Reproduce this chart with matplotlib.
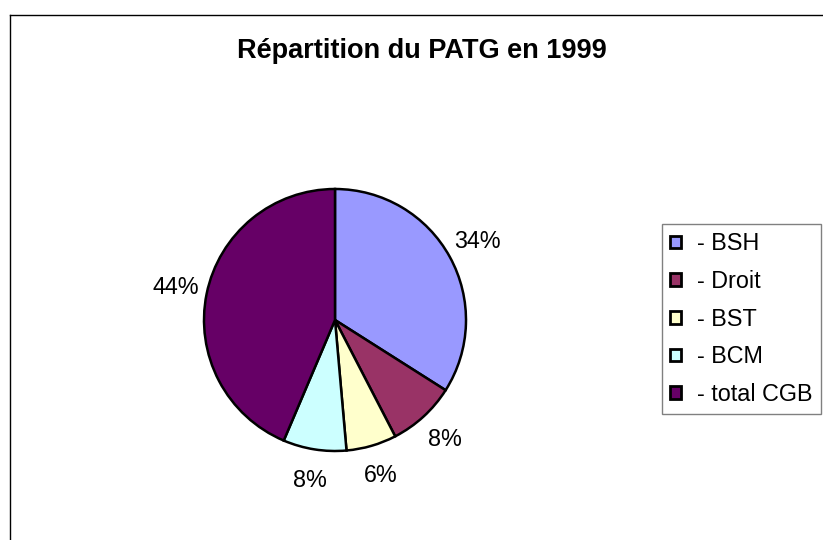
import matplotlib.pyplot as plt
from matplotlib.lines import Line2D

plt.rcParams['font.family'] = ['Liberation Sans', 'DejaVu Sans']

# Répartition du PATG en 1999 (parts in %)
categories = ['BSH', 'Droit', 'BST', 'BCM', 'total CGB']
parts = [34.0, 8.4, 6.2, 7.8, 43.6]
colors = ['#9999FF', '#993366', '#FFFFCC', '#CCFFFF', '#660066']

W, H = 823, 540
fig = plt.figure(figsize=(W / 100, H / 100), dpi=100)

# pie axes: centre (335, 320) px, radius 131 px
cx, cy, r = 335, 320, 131
ax = fig.add_axes([(cx - r) / W, (H - cy - r) / H, 2 * r / W, 2 * r / H])
wedges, _, autotexts = ax.pie(parts, colors=colors, startangle=90, counterclock=False,
                              autopct='%1.0f%%', pctdistance=1.24,
                              wedgeprops=dict(edgecolor='black', linewidth=1.8),
                              textprops=dict(fontsize=16.8, color='black'))
ax.set_xlim(-1, 1)
ax.set_ylim(-1, 1)
ax.axis('off')

fig.text(421.5 / W, 1 - 58.3 / H, 'Répartition du PATG en 1999', ha='center', va='baseline',
         fontsize=19.5, fontweight='bold')

leg = fig.legend(wedges, ['- ' + c for c in categories], loc='upper left',
                 bbox_to_anchor=(662 / W, 1 - 224 / H), borderaxespad=0,
                 fontsize=16.8, handlelength=0.45, handleheight=0.45, handletextpad=0.7,
                 labelspacing=0.63, borderpad=0.35, fancybox=False, framealpha=1)
leg.get_frame().set_edgecolor('#808080')
leg.get_frame().set_linewidth(1)
for h in leg.legend_handles:
    h.set_linewidth(2)

# outer chart frame (cropped on right and bottom)
fig.add_artist(Line2D([9.5 / W, 9.5 / W], [0, 1 - 14.5 / H], color='black', lw=1))
fig.add_artist(Line2D([9.5 / W, 1], [1 - 14.5 / H, 1 - 14.5 / H], color='black', lw=1))

fig.savefig('out.png', dpi=100)
